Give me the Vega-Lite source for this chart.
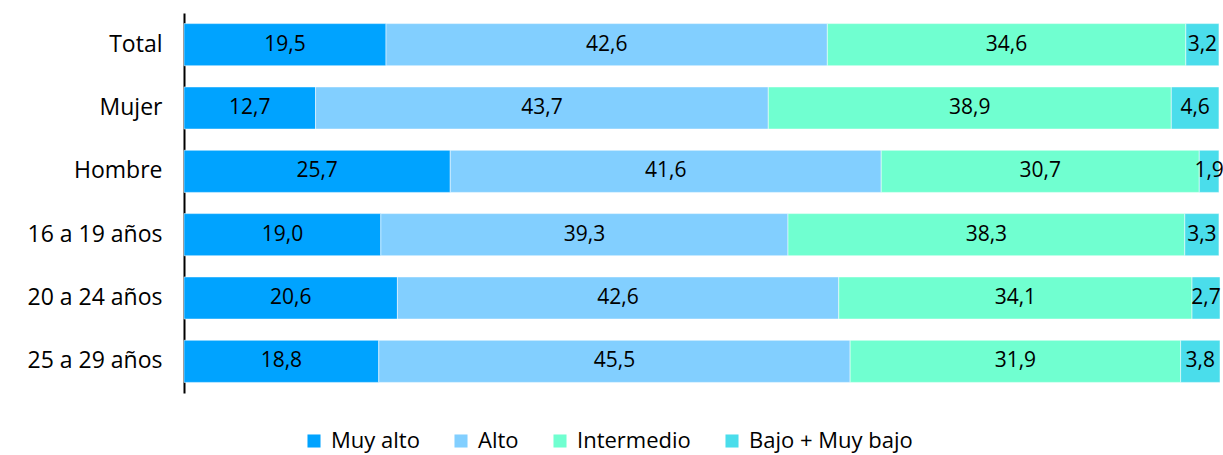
{
  "$schema": "https://vega.github.io/schema/vega-lite/v6.json",
  "width": 1036,
  "height": 380,
  "autosize": {"type": "none"},
  "padding": {"left": 184, "top": 13, "right": 3, "bottom": 62},
  "config": {
    "view": {"stroke": null},
    "font": "Open Sans",
    "locale": {"number": {"decimal": ",", "thousands": ".", "grouping": [3], "currency": ["", " €"]}}
  },
  "data": {
    "values": [
      {"grupo": "Total", "nivel": "Muy alto", "k": 1, "valor": 19.5},
      {"grupo": "Total", "nivel": "Alto", "k": 2, "valor": 42.6},
      {"grupo": "Total", "nivel": "Intermedio", "k": 3, "valor": 34.6},
      {"grupo": "Total", "nivel": "Bajo + Muy bajo", "k": 4, "valor": 3.2},
      {"grupo": "Mujer", "nivel": "Muy alto", "k": 1, "valor": 12.7},
      {"grupo": "Mujer", "nivel": "Alto", "k": 2, "valor": 43.7},
      {"grupo": "Mujer", "nivel": "Intermedio", "k": 3, "valor": 38.9},
      {"grupo": "Mujer", "nivel": "Bajo + Muy bajo", "k": 4, "valor": 4.6},
      {"grupo": "Hombre", "nivel": "Muy alto", "k": 1, "valor": 25.7},
      {"grupo": "Hombre", "nivel": "Alto", "k": 2, "valor": 41.6},
      {"grupo": "Hombre", "nivel": "Intermedio", "k": 3, "valor": 30.7},
      {"grupo": "Hombre", "nivel": "Bajo + Muy bajo", "k": 4, "valor": 1.9},
      {"grupo": "16 a 19 años", "nivel": "Muy alto", "k": 1, "valor": 19.0},
      {"grupo": "16 a 19 años", "nivel": "Alto", "k": 2, "valor": 39.3},
      {"grupo": "16 a 19 años", "nivel": "Intermedio", "k": 3, "valor": 38.3},
      {"grupo": "16 a 19 años", "nivel": "Bajo + Muy bajo", "k": 4, "valor": 3.3},
      {"grupo": "20 a 24 años", "nivel": "Muy alto", "k": 1, "valor": 20.6},
      {"grupo": "20 a 24 años", "nivel": "Alto", "k": 2, "valor": 42.6},
      {"grupo": "20 a 24 años", "nivel": "Intermedio", "k": 3, "valor": 34.1},
      {"grupo": "20 a 24 años", "nivel": "Bajo + Muy bajo", "k": 4, "valor": 2.7},
      {"grupo": "25 a 29 años", "nivel": "Muy alto", "k": 1, "valor": 18.8},
      {"grupo": "25 a 29 años", "nivel": "Alto", "k": 2, "valor": 45.5},
      {"grupo": "25 a 29 años", "nivel": "Intermedio", "k": 3, "valor": 31.9},
      {"grupo": "25 a 29 años", "nivel": "Bajo + Muy bajo", "k": 4, "valor": 3.8}
    ]
  },
  "transform": [
    {"stack": "valor", "groupby": ["grupo"], "sort": [{"field": "k", "order": "ascending"}], "as": ["v0", "v1"]}
  ],
  "encoding": {
    "y": {
      "field": "grupo",
      "type": "nominal",
      "sort": ["Total", "Mujer", "Hombre", "16 a 19 años", "20 a 24 años", "25 a 29 años"],
      "scale": {"paddingInner": 0.335, "paddingOuter": 0.1675},
      "axis": {
        "title": null,
        "domainColor": "#000000",
        "domainWidth": 2,
        "ticks": false,
        "labelFontSize": 23,
        "labelColor": "#000000",
        "labelPadding": 22,
        "labelLimit": 300
      }
    }
  },
  "layer": [
    {
      "mark": {"type": "bar", "stroke": "#ffffff", "strokeWidth": 0.5},
      "encoding": {
        "x": {"field": "v0", "type": "quantitative", "scale": {"domain": [0, 100]}, "axis": null},
        "x2": {"field": "v1"},
        "color": {
          "field": "nivel",
          "type": "nominal",
          "sort": ["Muy alto", "Alto", "Intermedio", "Bajo + Muy bajo"],
          "scale": {
            "domain": ["Muy alto", "Alto", "Intermedio", "Bajo + Muy bajo"],
            "range": ["#00A3FF", "#82CFFF", "#70FFD0", "#4ADDEB"]
          },
          "legend": {
            "title": null,
            "orient": "none",
            "direction": "horizontal",
            "legendX": 119,
            "legendY": 417,
            "symbolType": "square",
            "symbolSize": 170,
            "symbolStrokeWidth": 0,
            "labelFontSize": 22,
            "labelColor": "#000000",
            "labelOffset": 6,
            "labelLimit": 300,
            "columnPadding": 30
          }
        }
      }
    },
    {
      "transform": [
        {"fold": ["v0", "v1"], "as": ["extremo", "pos"]},
        {"aggregate": [{"op": "mean", "field": "pos", "as": "mid"}], "groupby": ["grupo", "nivel", "valor"]}
      ],
      "mark": {"type": "text", "fontSize": 21, "color": "#000000"},
      "encoding": {
        "x": {"field": "mid", "type": "quantitative", "scale": {"domain": [0, 100]}},
        "text": {"field": "valor", "type": "quantitative", "format": ".1f"}
      }
    }
  ]
}
